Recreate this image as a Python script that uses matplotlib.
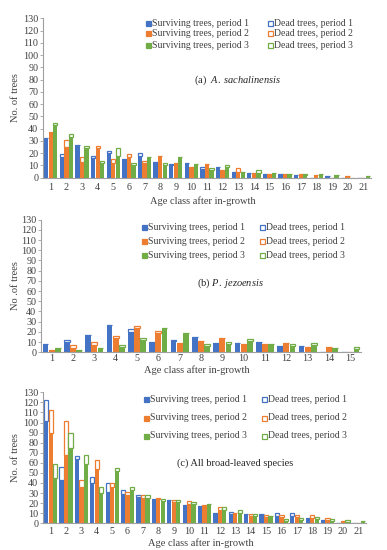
import matplotlib
matplotlib.use("Agg")
import matplotlib.pyplot as plt
import numpy as np

plt.rcParams['font.family'] = ['Liberation Serif', 'DejaVu Serif']
plt.rcParams['mathtext.fontset'] = 'custom'
plt.rcParams['mathtext.rm'] = 'Liberation Serif'
plt.rcParams['mathtext.it'] = 'Liberation Serif:italic'

# (a) A. sachalinensis, classes 1..21
a_surv1 = [32, 17, 27, 16, 20, 15, 18, 13, 10, 12, 7, 9, 5, 4, 3, 3, 2, 0, 1, 0, 0]
a_dead1 = [0, 2, 0, 2, 2, 0, 2, 0, 1, 0, 2, 0, 0, 0, 0, 0, 0, 0, 0, 0, 0]
a_surv2 = [37, 25, 13, 24, 12, 17, 12, 18, 12, 9, 11, 6, 5, 4, 3, 3, 2, 2, 0, 1, 0]
a_dead2 = [0, 6, 4, 2, 3, 2, 2, 0, 0, 0, 0, 0, 3, 0, 0, 0, 1, 0, 0, 0, 0]
a_surv3 = [43, 33, 24, 12, 18, 10, 17, 10, 17, 11, 6, 9, 5, 4, 4, 3, 2, 3, 2, 0, 1]
a_dead3 = [2, 3, 2, 2, 6, 2, 0, 2, 0, 0, 2, 1, 0, 2, 0, 0, 1, 0, 0, 0, 0]

# (b) P. jezoensis, classes 1..15
b_surv1 = [8, 10, 17, 27, 20, 10, 11, 15, 9, 9, 10, 6, 6, 0, 0]
b_dead1 = [0, 2, 0, 0, 3, 0, 1, 0, 0, 0, 0, 0, 0, 0, 0]
b_surv2 = [2, 4, 7, 14, 24, 19, 9, 11, 14, 8, 8, 9, 5, 5, 0]
b_dead2 = [0, 3, 3, 2, 2, 2, 0, 0, 0, 0, 0, 0, 0, 0, 0]
b_surv3 = [4, 2, 4, 5, 12, 24, 19, 6, 8, 11, 8, 6, 7, 4, 3]
b_dead3 = [0, 0, 0, 2, 2, 0, 0, 2, 2, 2, 0, 2, 2, 0, 2]

# (c) all broad-leaved species, classes 1..21
c_surv1 = [102, 43, 64, 40, 31, 29, 26, 24, 23, 18, 17, 10, 9, 9, 9, 7, 7, 5, 3, 0, 0]
c_dead1 = [20, 13, 3, 6, 9, 4, 2, 0, 0, 0, 0, 0, 2, 0, 0, 3, 3, 0, 0, 0, 0]
c_surv2 = [90, 68, 36, 54, 36, 28, 25, 24, 21, 19, 17, 13, 10, 7, 6, 6, 6, 5, 3, 2, 0]
c_dead2 = [22, 34, 7, 9, 4, 3, 3, 1, 2, 3, 1, 3, 0, 2, 2, 2, 2, 3, 2, 0, 0]
c_surv3 = [45, 75, 59, 30, 52, 33, 25, 22, 21, 19, 19, 13, 10, 7, 7, 2, 3, 4, 2, 1, 2]
c_dead3 = [14, 15, 9, 6, 3, 3, 3, 2, 2, 2, 0, 3, 3, 2, 0, 2, 2, 2, 2, 2, 0]

colors = ['#4472C4', '#ED7D31', '#70AD47']
labels_s = ['Surviving trees, period 1', 'Surviving trees, period 2', 'Surviving trees, period 3']
labels_d = ['Dead trees, period 1', 'Dead trees, period 2', 'Dead trees, period 3']
txt = '#404040'

W, H = 387, 550
fig = plt.figure(figsize=(W / 100, H / 100), dpi=100)


def panel(box, surv, dead, ylab, title, tpos, legy, legx, xlaby, tickpad):
    l, r, b, t = box
    ax = fig.add_axes([l / W, 1 - b / H, (r - l) / W, (b - t) / H])
    n = len(surv[0])
    x = np.arange(1, n + 1)
    bw = 0.29
    for i in range(3):
        xi = x + (i - 1) * bw
        ax.bar(xi, surv[i], bw * 0.95, color=colors[i], linewidth=0)
        ax.bar(xi, dead[i], bw * 0.95, bottom=surv[i], facecolor='white',
               edgecolor=colors[i], linewidth=0.9)
    ax.set_xlim(0.5, n + 0.5)
    ax.set_ylim(0, 130)
    ax.set_yticks(np.arange(0, 131, 10))
    ax.set_xticks(x)
    for s in ['top', 'right']:
        ax.spines[s].set_visible(False)
    ax.spines['left'].set_color('#A0A0A0')
    ax.spines['bottom'].set_color('#A0A0A0')
    ax.tick_params(axis='y', labelsize=7.3, colors='#A0A0A0', labelcolor=txt,
                   length=2.5, width=0.6, pad=1)
    ax.tick_params(axis='x', labelsize=7.3, length=0, labelcolor=txt, pad=tickpad)
    fig.text(16 / W, 1 - ((b + t) / 2) / H, ylab, rotation=90, ha='center',
             va='center', fontsize=7.5, color=txt)
    fig.text(((l + r) / 2 - 4) / W, 1 - xlaby / H, 'Age class after in-growth',
             ha='center', va='center', fontsize=7.5, color=txt)
    fig.text(tpos[0] / W, 1 - tpos[1] / H, title, ha='center', va='center',
             fontsize=7.5, color='#262626')
    for i in range(3):
        for j, lab in enumerate([labels_s[i], labels_d[i]]):
            mx = legx[j]
            my = legy[i]
            fc = colors[i] if j == 0 else 'white'
            fig.patches.append(plt.Rectangle(((mx - 2.5) / W, 1 - (my + 2.5) / H),
                                             5 / W, 5 / H, transform=fig.transFigure,
                                             facecolor=fc, edgecolor=colors[i],
                                             linewidth=0.9))
            fig.text((mx + 4) / W, 1 - my / H, lab, ha='left', va='center',
                     fontsize=7, color=txt)
    return ax


panel((43, 371, 177.7, 18.3), [a_surv1, a_surv2, a_surv3], [a_dead1, a_dead2, a_dead3],
      'No. of trees', r'(a)  $\mathit{A.\ sachalinensis}$', (238, 80),
      (23, 33.5, 45), (148, 270), 201, 4)
panel((41, 361, 352.3, 219.7), [b_surv1, b_surv2, b_surv3], [b_dead1, b_dead2, b_dead3],
      'No .of trees', r'(b) $\mathit{P.\ jezoensis}$', (230, 283),
      (227, 241, 255), (144, 262), 370.5, 1.5)
panel((43, 366, 523.3, 392.3), [c_surv1, c_surv2, c_surv3], [c_dead1, c_dead2, c_dead3],
      'No. of trees', '(c) All broad-leaved species', (235, 463),
      (399, 418, 436), (146, 264), 543, 3)

fig.savefig('out.png', dpi=100)
